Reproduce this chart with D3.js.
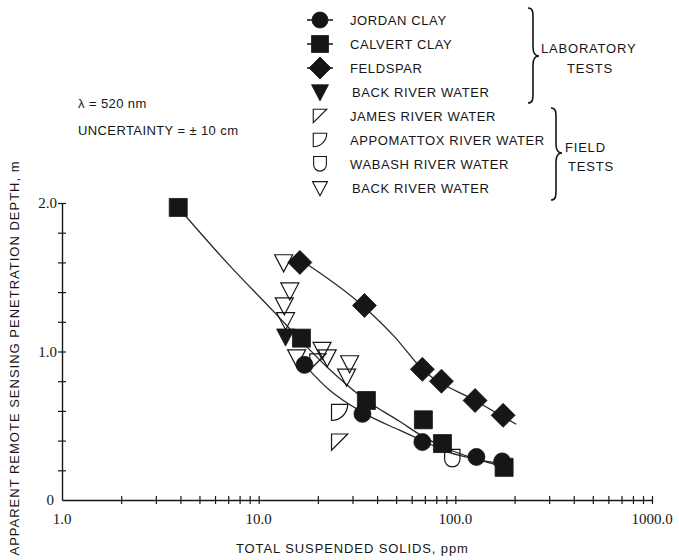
<!DOCTYPE html>
<html><head><meta charset="utf-8">
<script src="https://cdn.jsdelivr.net/npm/d3@7"></script>
<style>
html,body{margin:0;padding:0;background:#fff;}
svg{display:block;}
</style></head><body>
<svg id="chart" width="679" height="560"></svg>
<script>
// ---- Laboratory tests (ppm, penetration depth in m) ----
const jordanPpm     = [17.1, 33.7, 68, 128, 173];
const jordanDepth   = [0.91, 0.58, 0.39, 0.29, 0.26];
const calvertPpm    = [3.9, 16.5, 35.3, 68.8, 86, 177];
const calvertDepth  = [1.97, 1.09, 0.67, 0.54, 0.38, 0.22];
const feldsparPpm   = [16.2, 34.5, 68, 85, 126, 175];
const feldsparDepth = [1.60, 1.31, 0.88, 0.80, 0.67, 0.57];
const backLabPpm    = [13.7];
const backLabDepth  = [1.10];

// ---- Field tests ----
const jamesPpm       = [20.0, 25.8];
const jamesDepth     = [0.93, 0.39];
const appomattoxPpm  = [25.8];
const appomattoxDepth= [0.59];
const wabashPpm      = [96.5];
const wabashDepth    = [0.28];
const backFieldPpm   = [13.4, 14.4, 13.5, 13.7, 15.6, 21.0, 22.3, 29, 28];
const backFieldDepth = [1.60, 1.41, 1.31, 1.21, 0.96, 1.01, 0.96, 0.92, 0.83];

// ---- Fitted curves ----
const jordanFitPpm     = [17.1, 22.9, 33.7, 52, 68, 93, 132, 181];
const jordanFitDepth   = [0.91, 0.74, 0.59, 0.47, 0.40, 0.32, 0.27, 0.24];
const calvertFitPpm    = [3.9, 7.1, 12.1, 16.2, 22.9, 35.3, 52, 68, 93, 132, 181];
const calvertFitDepth  = [1.97, 1.58, 1.26, 1.08, 0.88, 0.67, 0.53, 0.43, 0.34, 0.27, 0.22];
const feldsparFitPpm   = [16.2, 33.7, 49, 68, 126, 204];
const feldsparFitDepth = [1.62, 1.31, 1.10, 0.88, 0.67, 0.51];

// ---- Axis labels ----
const xTickValues = [1, 10, 100, 1000];
const xTickLabels = ["1.0", "10.0", "100.0", "1000.0"];
const yTickValues = [0, 1, 2];
const yTickLabels = ["0", "1.0", "2.0"];

// ---- Legend ----
const legendLabels  = ["JORDAN CLAY", "CALVERT CLAY", "FELDSPAR", "BACK RIVER WATER",
                       "JAMES RIVER WATER", "APPOMATTOX RIVER WATER", "WABASH RIVER WATER", "BACK RIVER WATER"];
const legendSymbols = ["circle", "square", "diamond", "triFilled",
                       "james", "appomattox", "wabash", "triOpen"];

const INK = "#161616";
const sans = "'Liberation Sans', Arial, sans-serif";
const serif = "'Liberation Serif', 'Times New Roman', serif";

const svg = d3.select("#chart");

const x = d3.scaleLog().domain([1, 1000]).range([62, 652]);
const y = d3.scaleLinear().domain([0, 2]).range([500, 203]);

// symbol outlines, centred on 0,0
function symbolPath(type, s) {
  switch (type) {
    case "circle":
      return `M${s},0A${s},${s} 0 1 1 ${-s},0A${s},${s} 0 1 1 ${s},0Z`;
    case "square":
      return `M${-s},${-s}H${s}V${s}H${-s}Z`;
    case "diamond":
      return `M0,${-s}L${s},0L0,${s}L${-s},0Z`;
    case "triFilled":
    case "triOpen":
      return `M${-s},${-s * 0.85}H${s}L0,${s * 1.05}Z`;
    case "james":
      return `M${-s * 0.9},${-s * 0.9}H${s * 0.9}L${-s * 0.9},${s * 0.9}Z`;
    case "appomattox":
      return `M${-s * 0.9},${-s * 0.9}H${s * 0.9}A${s * 1.8},${s * 1.8} 0 0 1 ${-s * 0.9},${s * 0.9}Z`;
    case "wabash":
      return `M${-s * 0.85},${-s}H${s * 0.85}V${s * 0.1}A${s * 0.85},${s * 0.85} 0 0 1 ${-s * 0.85},${s * 0.1}Z`;
  }
}
const filledTypes = new Set(["circle", "square", "diamond", "triFilled"]);

function drawMarks(ppm, depth, type, s) {
  const pts = ppm.map((p, i) => [p, depth[i]]);
  svg.append("g").selectAll("path").data(pts).join("path")
    .attr("transform", d => `translate(${x(d[0])},${y(d[1])})`)
    .attr("d", symbolPath(type, s))
    .attr("fill", filledTypes.has(type) ? INK : "none")
    .attr("stroke", INK)
    .attr("stroke-width", filledTypes.has(type) ? 0.8 : 1.2)
    .attr("stroke-linejoin", "miter");
}

// ---- Axes with cross ticks ----
const xMinor = [];
[1, 10, 100].forEach(dec => d3.range(2, 11).forEach(k => xMinor.push(dec * k)));
const gx = svg.append("g").attr("transform", `translate(0,${y(0)})`)
  .call(d3.axisBottom(x).tickValues(xMinor).tickSize(4).tickSizeOuter(0).tickFormat(""));
gx.selectAll(".tick line").attr("y1", -4).attr("y2", 4);

const yMinor = d3.range(1, 11).map(i => +(i * 0.2).toFixed(1));
const gy = svg.append("g").attr("transform", `translate(${x(1)},0)`)
  .call(d3.axisLeft(y).tickValues(yMinor).tickSize(4).tickSizeOuter(0).tickFormat(""));
gy.selectAll(".tick line").attr("x1", -4).attr("x2", 4);

[gx, gy].forEach(g => {
  g.select(".domain").attr("stroke", INK).attr("stroke-width", 1.4);
  g.selectAll(".tick line").attr("stroke", INK).attr("stroke-width", 1.2);
});

svg.append("g").selectAll("text").data(xTickValues).join("text")
  .attr("x", d => x(d)).attr("y", y(0) + 24)
  .attr("text-anchor", "middle")
  .attr("font-family", serif).attr("font-size", 15).attr("fill", INK)
  .text((d, i) => xTickLabels[i]);

svg.append("g").selectAll("text").data(yTickValues).join("text")
  .attr("x", d => d === 0 ? x(1) - 8 : x(1) - 5)
  .attr("y", d => y(d) + 5)
  .attr("text-anchor", "end")
  .attr("font-family", serif).attr("font-size", 15).attr("fill", INK)
  .text((d, i) => yTickLabels[i]);

// axis titles
svg.append("text")
  .attr("x", 236).attr("y", 553)
  .attr("font-family", sans).attr("font-size", 13).attr("letter-spacing", 0.9)
  .attr("fill", INK)
  .text("TOTAL SUSPENDED SOLIDS, ppm");

svg.append("text")
  .attr("transform", "translate(19,358) rotate(-90)")
  .attr("text-anchor", "middle")
  .attr("font-family", sans).attr("font-size", 13).attr("letter-spacing", 1)
  .attr("fill", INK)
  .text("APPARENT REMOTE SENSING PENETRATION DEPTH, m");

// ---- Fitted curves ----
const line = d3.line().x(d => x(d[0])).y(d => y(d[1])).curve(d3.curveMonotoneX);
[[calvertFitPpm, calvertFitDepth], [jordanFitPpm, jordanFitDepth], [feldsparFitPpm, feldsparFitDepth]]
  .forEach(([p, dpt]) => {
    svg.append("path")
      .attr("d", line(p.map((v, i) => [v, dpt[i]])))
      .attr("fill", "none").attr("stroke", "#2a2a2a").attr("stroke-width", 1.3);
  });

// ---- Data points ----
drawMarks(backFieldPpm, backFieldDepth, "triOpen", 9);
drawMarks(jamesPpm, jamesDepth, "james", 9);
drawMarks(appomattoxPpm, appomattoxDepth, "appomattox", 9);
drawMarks(wabashPpm, wabashDepth, "wabash", 9);
drawMarks(backLabPpm, backLabDepth, "triFilled", 9);
drawMarks(calvertPpm, calvertDepth, "square", 9);
drawMarks(feldsparPpm, feldsparDepth, "diamond", 12);
drawMarks(jordanPpm, jordanDepth, "circle", 8.5);

// ---- Legend ----
const leg = svg.append("g");
legendLabels.forEach((lab, i) => {
  const cy = 20 + i * 24;
  const type = legendSymbols[i];
  const cx = 320;
  if (type === "circle" || type === "square" || type === "diamond") {
    leg.append("line").attr("x1", cx - 13).attr("x2", cx + 13)
      .attr("y1", cy).attr("y2", cy).attr("stroke", INK).attr("stroke-width", 1.5);
  }
  const size = type === "diamond" ? 11 : (type === "circle" ? 8 : (filledTypes.has(type) ? 8.5 : 7.5));
  leg.append("path")
    .attr("transform", `translate(${cx},${cy})`)
    .attr("d", symbolPath(type, size))
    .attr("fill", filledTypes.has(type) ? INK : "none")
    .attr("stroke", INK).attr("stroke-width", filledTypes.has(type) ? 0.8 : 1.1);
  leg.append("text")
    .attr("x", i >= 3 && (type === "triFilled" || type === "triOpen") ? 352 : 350)
    .attr("y", cy + 5)
    .attr("font-family", sans).attr("font-size", 13).attr("letter-spacing", 0.6)
    .attr("fill", INK).text(lab);
});

// group braces
function brace(x0, y0, y1, ym) {
  return `M${x0 - 5},${y0} C${x0},${y0} ${x0},${y0 + 4} ${x0},${y0 + 11}` +
    ` L${x0},${ym - 9} C${x0},${ym - 3} ${x0 + 2},${ym} ${x0 + 6},${ym}` +
    ` C${x0 + 2},${ym} ${x0},${ym + 3} ${x0},${ym + 9}` +
    ` L${x0},${y1 - 11} C${x0},${y1 - 4} ${x0},${y1} ${x0 - 5},${y1}`;
}
svg.append("path").attr("d", brace(533, 8, 103, 56))
  .attr("fill", "none").attr("stroke", INK).attr("stroke-width", 1.6);
svg.append("path").attr("d", brace(556, 108, 200, 153))
  .attr("fill", "none").attr("stroke", INK).attr("stroke-width", 1.6);

const groupText = [["LABORATORY", 541, 53], ["TESTS", 567, 73], ["FIELD", 565, 152], ["TESTS", 568, 171]];
groupText.forEach(([t, tx, ty]) => {
  svg.append("text").attr("x", tx).attr("y", ty)
    .attr("font-family", sans).attr("font-size", 13).attr("letter-spacing", 0.8)
    .attr("fill", INK).text(t);
});

// conditions
svg.append("text").attr("x", 78).attr("y", 108)
  .attr("font-family", sans).attr("font-size", 13).attr("letter-spacing", 0.4)
  .attr("fill", INK).text("λ = 520 nm");
svg.append("text").attr("x", 78).attr("y", 135)
  .attr("font-family", sans).attr("font-size", 13).attr("letter-spacing", 0.4)
  .attr("fill", INK).text("UNCERTAINTY = ± 10 cm");
</script>
</body></html>
